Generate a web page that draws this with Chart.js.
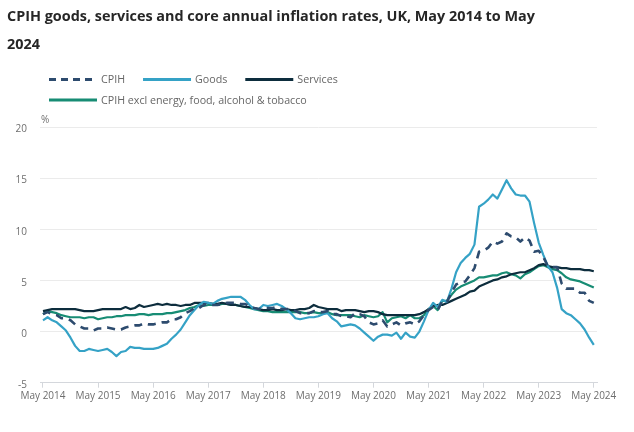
<!DOCTYPE html>
<html>
<head>
<meta charset="utf-8">
<script src="https://cdn.jsdelivr.net/npm/chart.js@4.4.1/dist/chart.umd.min.js"></script>
<style>
html,body{margin:0;padding:0;background:#ffffff;}
canvas{display:block;}
</style>
</head>
<body>
<canvas id="c" width="634" height="432"></canvas>
<script>
// ---- text ----
const titleLines = ['CPIH goods, services and core annual inflation rates, UK, May 2014 to May', '2024'];
const seriesNames = ['CPIH', 'Goods', 'Services', 'CPIH excl energy, food, alcohol & tobacco'];
const unitLabel = '%';

// ---- categories: monthly, May 2014 to May 2024 ----
const monthNames = ['Jan','Feb','Mar','Apr','May','Jun','Jul','Aug','Sep','Oct','Nov','Dec'];
const months = [];
for (let i = 0; i < 121; i++) {
  const mi = (4 + i) % 12;
  const yr = 2014 + Math.floor((4 + i) / 12);
  months.push(monthNames[mi] + ' ' + yr);
}

// ---- tick labels ----
const xTickLabels = ['May 2014','May 2015','May 2016','May 2017','May 2018','May 2019','May 2020','May 2021','May 2022','May 2023','May 2024'];
const yTickValues = [-5, 0, 5, 10, 15, 20];

// ---- series (annual % change) ----
const cpih = [
  1.7,1.9,1.7,1.6,1.3,1.3,1.1,0.7,
  0.5,0.3,0.3,0.1,0.3,0.3,0.4,0.3,0.2,0.2,0.4,0.5,
  0.6,0.6,0.8,0.7,0.7,0.8,0.9,0.9,1.2,1.2,1.4,1.8,
  2.0,2.3,2.3,2.6,2.7,2.6,2.6,2.7,2.8,2.8,2.8,2.7,
  2.7,2.5,2.3,2.2,2.3,2.3,2.3,2.4,2.2,2.2,2.2,2.0,
  1.8,1.8,1.8,2.0,1.9,1.9,2.0,1.7,1.7,1.5,1.5,1.4,
  1.8,1.7,1.5,0.9,0.7,0.8,1.1,0.5,0.7,0.9,0.6,0.8,
  0.9,0.7,1.0,1.6,2.1,2.4,2.1,3.0,2.9,3.8,4.6,4.8,
  4.9,5.5,6.2,7.8,7.9,8.2,8.8,8.6,8.8,9.6,9.3,9.2,
  8.8,9.2,8.9,7.8,7.9,7.3,6.4,6.3,6.3,4.7,4.2,4.2,
  4.2,3.8,3.8,3.0,2.8
];
const goods = [
  1.1,1.4,1.1,0.9,0.5,0.1,-0.6,-1.4,-1.9,-1.9,-1.7,-1.8,
  -1.9,-1.8,-1.7,-2.0,-2.4,-2.0,-1.9,-1.5,-1.6,-1.6,-1.7,-1.7,
  -1.7,-1.6,-1.4,-1.2,-0.7,-0.3,0.2,0.9,1.6,2.1,2.6,2.9,
  2.8,2.7,3.0,3.2,3.3,3.4,3.4,3.4,3.1,2.6,2.2,2.2,
  2.6,2.5,2.6,2.7,2.5,2.2,1.8,1.3,1.2,1.3,1.4,1.4,
  1.5,1.7,1.8,1.3,1.0,0.5,0.6,0.7,0.6,0.3,-0.1,-0.5,
  -0.9,-0.5,-0.3,-0.3,-0.4,-0.1,-0.7,-0.1,-0.5,-0.6,0.0,1.0,
  2.1,2.8,2.4,3.1,2.9,4.2,5.8,6.7,7.2,7.6,8.5,12.2,
  12.5,12.9,13.4,13.0,13.9,14.8,14.0,13.4,13.3,13.3,12.7,10.6,
  8.7,7.5,6.4,5.8,4.3,2.2,1.8,1.6,1.2,0.8,0.2,-0.6,-1.3
];
const services = [
  2.0,2.1,2.2,2.2,2.2,2.2,2.2,2.2,2.1,2.0,2.0,2.0,
  2.1,2.2,2.2,2.2,2.2,2.2,2.4,2.2,2.3,2.6,2.4,2.5,
  2.6,2.7,2.6,2.7,2.6,2.6,2.5,2.6,2.6,2.8,2.8,2.8,
  2.8,2.7,2.7,2.8,2.7,2.6,2.6,2.5,2.4,2.4,2.3,2.2,
  2.1,2.1,2.2,2.1,2.1,2.2,2.1,2.1,2.2,2.2,2.3,2.6,
  2.4,2.3,2.2,2.2,2.2,2.0,2.1,2.1,2.1,2.0,1.9,2.0,
  2.0,1.9,1.7,1.6,1.6,1.6,1.6,1.6,1.6,1.6,1.7,1.9,
  2.2,2.5,2.6,2.6,2.8,3.0,3.2,3.4,3.6,3.9,4.0,4.4,
  4.6,4.8,5.0,5.1,5.3,5.4,5.6,5.7,5.8,5.8,6.0,6.2,
  6.5,6.6,6.4,6.3,6.3,6.2,6.2,6.1,6.1,6.1,6.0,6.0,5.9
];
const core = [
  1.7,2.0,1.9,1.8,1.6,1.5,1.4,1.4,1.4,1.3,1.4,1.4,
  1.2,1.3,1.4,1.4,1.5,1.5,1.6,1.6,1.6,1.7,1.7,1.6,
  1.7,1.7,1.7,1.8,1.8,1.9,2.0,2.1,2.3,2.4,2.6,2.5,
  2.6,2.6,2.6,2.7,2.7,2.6,2.6,2.5,2.4,2.3,2.2,2.1,
  2.0,2.0,1.9,1.9,1.9,1.9,1.9,1.9,1.9,1.8,1.8,1.9,
  1.8,1.8,1.9,1.7,1.6,1.6,1.6,1.6,1.5,1.4,1.6,1.5,
  1.4,1.5,1.9,0.9,1.3,1.4,1.5,1.3,1.6,1.3,1.3,1.6,
  2.2,2.5,2.1,3.0,3.0,3.6,4.1,4.4,4.6,4.8,5.0,5.3,
  5.3,5.4,5.5,5.5,5.7,5.8,5.6,5.5,5.2,5.6,5.8,6.1,
  6.4,6.5,6.3,6.1,6.0,5.7,5.3,5.1,5.0,4.9,4.7,4.5,4.3
];

// ---- build chart ----
const toPoints = arr => arr.map((v, i) => ({ x: i, y: v }));
const FONT = '"Open Sans", "DejaVu Sans", sans-serif';
Chart.defaults.font.family = FONT;

const legendPlugin = {
  id: 'customLegend',
  afterDraw(chart) {
    const ctx = chart.ctx;
    ctx.save();
    ctx.font = '10.7px ' + FONT;
    ctx.textBaseline = 'middle';
    ctx.textAlign = 'left';
    const startX = 49, rowMax = 345, sample = 48, gap = 4, spacing = 18;
    let x = startX, y = 79.5;
    chart.data.datasets.forEach(ds => {
      const tw = ctx.measureText(ds.label).width;
      const w = sample + gap + tw;
      if (x > startX && x + w > rowMax) { x = startX; y += 20.5; }
      ctx.beginPath();
      ctx.strokeStyle = ds.borderColor;
      ctx.lineWidth = 3;
      ctx.setLineDash(ds.borderDash && ds.borderDash.length ? [7, 5] : []);
      ctx.moveTo(x, y);
      ctx.lineTo(x + sample, y);
      ctx.stroke();
      ctx.setLineDash([]);
      ctx.fillStyle = '#666666';
      ctx.fillText(ds.label, x + sample + gap, y + 0.5);
      x += w + spacing;
    });
    // unit label
    ctx.font = '10px ' + FONT;
    ctx.fillStyle = '#707070';
    ctx.fillText(unitLabel, chart.chartArea.left + 1, chart.chartArea.top - 7);
    ctx.restore();
  }
};

new Chart(document.getElementById('c'), {
  type: 'line',
  data: {
    labels: months,
    datasets: [
      { label: seriesNames[0], data: toPoints(cpih), borderColor: '#2d4b6e', borderWidth: 2.6, borderDash: [8, 6] },
      { label: seriesNames[1], data: toPoints(goods), borderColor: '#35a2c6', borderWidth: 2.2 },
      { label: seriesNames[2], data: toPoints(services), borderColor: '#0d2d3d', borderWidth: 2.2 },
      { label: seriesNames[3], data: toPoints(core), borderColor: '#178c74', borderWidth: 2.2 }
    ]
  },
  options: {
    responsive: false,
    animation: false,
    devicePixelRatio: 1,
    layout: { padding: { left: 7, right: 37, top: 0, bottom: 0 } },
    elements: { point: { radius: 0, hoverRadius: 0 }, line: { tension: 0, borderCapStyle: 'butt', borderJoinStyle: 'round' } },
    plugins: {
      legend: { display: false },
      tooltip: { enabled: false },
      title: {
        display: true,
        text: titleLines,
        align: 'start',
        color: '#262626',
        font: { family: FONT, size: 14.4, weight: 'bold', lineHeight: '28px' },
        padding: { top: 3, bottom: 68 }
      }
    },
    scales: {
      x: {
        type: 'linear',
        min: -0.65,
        max: 120.7,
        afterBuildTicks: s => { s.ticks = xTickLabels.map((_, k) => ({ value: k * 12 })); },
        afterFit: s => { s.height = 49.3; },
        ticks: {
          autoSkip: false,
          maxRotation: 0,
          padding: 2,
          color: '#6e6e6e',
          font: { size: 10 },
          callback: v => months[v].startsWith('May') ? months[v] : ''
        },
        grid: { drawOnChartArea: false, drawTicks: true, tickLength: 5, color: '#d4d7dc' },
        border: { display: true, color: '#d4d7dc', width: 1 }
      },
      y: {
        min: -5,
        max: 20,
        afterBuildTicks: s => { s.ticks = yTickValues.map(v => ({ value: v })); },
        afterFit: s => { s.width = 33; },
        ticks: { padding: 13, color: '#6e6e6e', font: { size: 10 }, labelOffset: 2.5 },
        grid: { color: '#ebebeb', drawTicks: false, lineWidth: 1 },
        border: { display: false }
      }
    }
  },
  plugins: [legendPlugin]
});
</script>
</body>
</html>
